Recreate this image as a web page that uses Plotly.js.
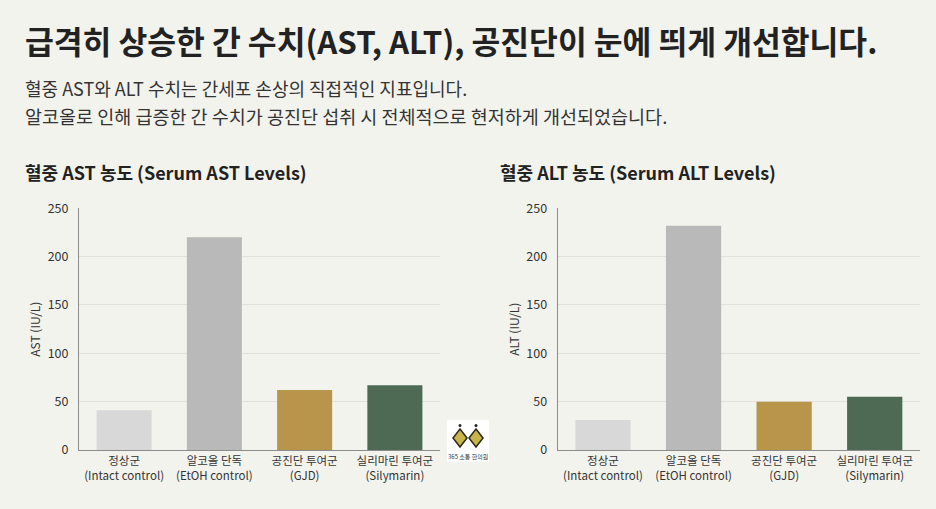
<!DOCTYPE html>
<html><head><meta charset="utf-8">
<script src="https://cdn.plot.ly/plotly-3.0.1.min.js"></script>
<style>html,body{margin:0;padding:0;background:#f3f3ee;}#chart{width:936px;height:509px;}</style>
</head><body><div id="chart"></div>
<script>
const categories = ["정상군<br>(Intact control)", "알코올 단독<br>(EtOH control)", "공진단 투여군<br>(GJD)", "실리마린 투여군<br>(Silymarin)"];
const astValues = [41, 220, 62, 67];
const altValues = [31, 232, 50, 55];
const barColors = ["#d8d8d8", "#b9b9b9", "#b8954b", "#4e6a55"];
const yTicks = [0, 50, 100, 150, 200, 250];

const FONT = "'Noto Sans CJK KR', 'Noto Sans', sans-serif";
const W = 936, H = 509;
const px = v => v / W, py = v => 1 - v / H;

const traces = [
  {type: "bar", x: categories, y: astValues, marker: {color: barColors}, xaxis: "x", yaxis: "y", hoverinfo: "none"},
  {type: "bar", x: categories, y: altValues, marker: {color: barColors}, xaxis: "x2", yaxis: "y2", hoverinfo: "none"}
];

const axX = {showline: true, linecolor: "#8c8c8c", linewidth: 1, ticks: "", showgrid: false,
  tickfont: {family: FONT, size: 11.5, color: "#333"}, fixedrange: true};
const axY = {range: [0, 250], tickvals: yTicks, showline: true, linecolor: "#8c8c8c", linewidth: 1,
  gridcolor: "#e1e1dc", gridwidth: 1, zeroline: false, ticks: "", ticklabelstandoff: 7,
  tickfont: {family: FONT, size: 12.5, color: "#333"}, fixedrange: true};

const layout = {
  width: W, height: H,
  margin: {l: 0, r: 0, t: 0, b: 0},
  paper_bgcolor: "#f3f3ee", plot_bgcolor: "#f3f3ee",
  showlegend: false, bargap: 0.39,
  xaxis: Object.assign({}, axX, {domain: [px(79), px(440)], anchor: "y"}),
  yaxis: Object.assign({}, axY, {domain: [py(450), py(208.3)], anchor: "x",
    title: {text: "AST (IU/L)", font: {family: FONT, size: 12, color: "#333"}, standoff: 4}}),
  xaxis2: Object.assign({}, axX, {domain: [px(557.7), px(920)], anchor: "y2"}),
  yaxis2: Object.assign({}, axY, {domain: [py(450), py(208.3)], anchor: "x2",
    title: {text: "ALT (IU/L)", font: {family: FONT, size: 12, color: "#333"}, standoff: 4}}),
  annotations: [
    {text: "<b>급격히 상승한 간 수치(AST, ALT), 공진단이 눈에 띄게 개선합니다.</b>", xref: "paper", yref: "paper",
     x: px(23), y: py(40), xanchor: "left", yanchor: "middle", showarrow: false,
     font: {family: FONT, size: 31.3, color: "#222"}},
    {text: "혈중 AST와 ALT 수치는 간세포 손상의 직접적인 지표입니다.", xref: "paper", yref: "paper",
     x: px(23), y: py(88), xanchor: "left", yanchor: "middle", showarrow: false,
     font: {family: FONT, size: 18, color: "#333"}},
    {text: "알코올로 인해 급증한 간 수치가 공진단 섭취 시 전체적으로 현저하게 개선되었습니다.", xref: "paper", yref: "paper",
     x: px(23), y: py(116), xanchor: "left", yanchor: "middle", showarrow: false,
     font: {family: FONT, size: 18.5, color: "#333"}},
    {text: "<b>혈중 AST 농도 (Serum AST Levels)</b>", xref: "paper", yref: "paper",
     x: px(23), y: py(172), xanchor: "left", yanchor: "middle", showarrow: false,
     font: {family: FONT, size: 18, color: "#222"}},
    {text: "<b>혈중 ALT 농도 (Serum ALT Levels)</b>", xref: "paper", yref: "paper",
     x: px(498), y: py(172), xanchor: "left", yanchor: "middle", showarrow: false,
     font: {family: FONT, size: 18, color: "#222"}},
    {text: "365 소통 한의원", xref: "paper", yref: "paper",
     x: px(468), y: py(456), xanchor: "center", yanchor: "middle", showarrow: false,
     font: {family: FONT, size: 6, color: "#333"}}
  ],
  shapes: [
    {type: "rect", xref: "paper", yref: "paper", x0: px(447), x1: px(489), y0: py(462), y1: py(420),
     fillcolor: "#ffffff", line: {width: 0}, layer: "above"},
    {type: "path", xref: "paper", yref: "paper", layer: "above",
     path: `M ${px(460)} ${py(429)} L ${px(467)} ${py(438)} L ${px(460)} ${py(447)} L ${px(453)} ${py(438)} Z`,
     fillcolor: "#c9b44a", line: {color: "#2a2a1a", width: 1.5}},
    {type: "path", xref: "paper", yref: "paper", layer: "above",
     path: `M ${px(476)} ${py(429)} L ${px(483)} ${py(438)} L ${px(476)} ${py(447)} L ${px(469)} ${py(438)} Z`,
     fillcolor: "#c9b44a", line: {color: "#2a2a1a", width: 1.5}},
    {type: "circle", xref: "paper", yref: "paper", layer: "above",
     x0: px(458.5), x1: px(461.5), y0: py(427), y1: py(424), fillcolor: "#222", line: {width: 0}},
    {type: "circle", xref: "paper", yref: "paper", layer: "above",
     x0: px(474.5), x1: px(477.5), y0: py(427), y1: py(424), fillcolor: "#222", line: {width: 0}}
  ]
};

Plotly.newPlot("chart", traces, layout, {displayModeBar: false, staticPlot: true});
</script></body></html>
